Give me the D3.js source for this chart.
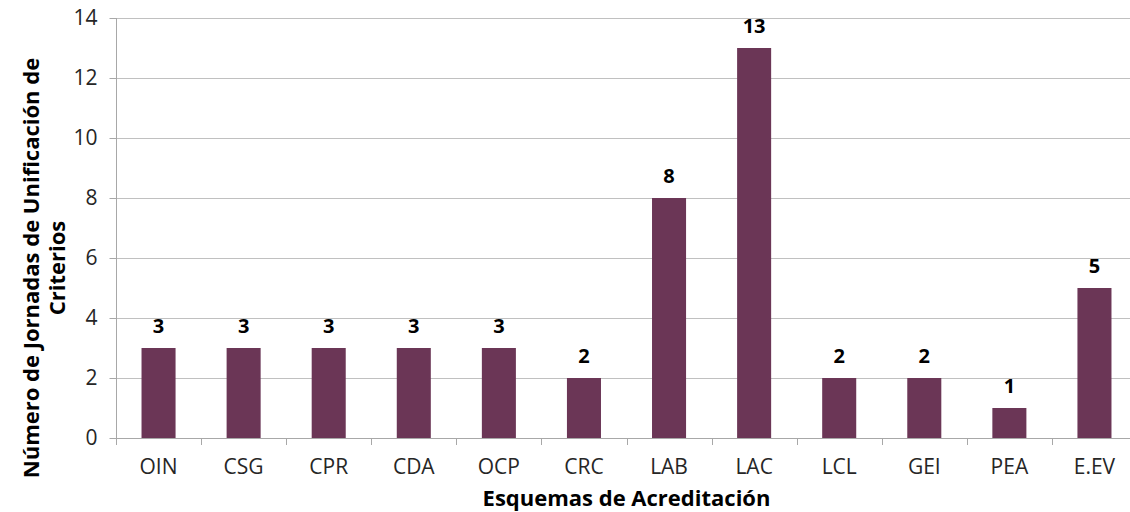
<!DOCTYPE html>
<html>
<head>
<meta charset="utf-8">
<script src="https://cdn.jsdelivr.net/npm/d3@7"></script>
<style>
  html, body { margin: 0; padding: 0; background: #ffffff; }
  svg { display: block; }
  text { font-family: "Open Sans", "Noto Sans", sans-serif; }
</style>
</head>
<body>
<svg id="chart" width="1130" height="512"></svg>
<script>
// Esquemas de acreditación y número de jornadas de unificación de criterios
const categories = ["OIN", "CSG", "CPR", "CDA", "OCP", "CRC", "LAB", "LAC", "LCL", "GEI", "PEA", "E.EV"];
const jornadas   = [3, 3, 3, 3, 3, 2, 8, 13, 2, 2, 1, 5];
const yTicks     = [0, 2, 4, 6, 8, 10, 12, 14];
const xTitle     = "Esquemas de Acreditación";
const yTitle     = ["Número de Jornadas de Unificación de", "Criterios"];

const svg = d3.select("#chart");
const plotLeft = 116, plotRight = 1137, plotTop = 18, plotBottom = 438;
const fontFamily = "'Open Sans', 'Noto Sans', sans-serif";

const x = d3.scaleBand()
  .domain(categories)
  .range([plotLeft, plotRight])
  .paddingInner(0.6)
  .paddingOuter(0.3);

const y = d3.scaleLinear()
  .domain([0, 14])
  .range([plotBottom, plotTop]);

const barColor = "#6b3656";
const gridColor = "#c0c0c0";
const axisColor = "#a8a8a8";

// horizontal gridlines
svg.append("g")
  .selectAll("line")
  .data(yTicks.filter(d => d > 0))
  .join("line")
  .attr("x1", plotLeft).attr("x2", 1130)
  .attr("y1", d => Math.round(y(d)) + 0.5)
  .attr("y2", d => Math.round(y(d)) + 0.5)
  .attr("stroke", gridColor)
  .attr("stroke-width", 1);

// y axis
const yAxis = svg.append("g")
  .attr("transform", `translate(${plotLeft + 0.5},0)`)
  .call(d3.axisLeft(y).tickValues(yTicks).tickSize(7).tickPadding(12).tickFormat(d3.format("d")));
yAxis.select(".domain").attr("stroke", axisColor).attr("d", `M0,${y(14)}V${y(0)}`);
yAxis.selectAll(".tick line").attr("stroke", axisColor);
yAxis.selectAll(".tick text")
  .attr("fill", "#262626")
  .style("font-size", "21px")
  .style("font-family", fontFamily);

// x axis baseline
svg.append("line")
  .attr("x1", plotLeft).attr("x2", 1130)
  .attr("y1", Math.round(y(0)) + 0.5).attr("y2", Math.round(y(0)) + 0.5)
  .attr("stroke", axisColor);

// category boundary ticks
const step = x.step();
const boundaries = categories.map(c => x(c) - (step - x.bandwidth()) / 2);
svg.append("g")
  .selectAll("line")
  .data(boundaries)
  .join("line")
  .attr("x1", d => Math.round(d) + 0.5)
  .attr("x2", d => Math.round(d) + 0.5)
  .attr("y1", y(0))
  .attr("y2", y(0) + 7)
  .attr("stroke", axisColor);

// category labels
svg.append("g")
  .selectAll("text")
  .data(categories)
  .join("text")
  .attr("x", d => x(d) + x.bandwidth() / 2)
  .attr("y", 474)
  .attr("text-anchor", "middle")
  .attr("fill", "#262626")
  .style("font-size", "21px")
  .text(d => d);

// bars
svg.append("g")
  .selectAll("rect")
  .data(categories.map((c, i) => ({ c, v: jornadas[i] })))
  .join("rect")
  .attr("x", d => x(d.c))
  .attr("y", d => y(d.v))
  .attr("width", x.bandwidth())
  .attr("height", d => y(0) - y(d.v))
  .attr("fill", barColor);

// value labels
svg.append("g")
  .selectAll("text")
  .data(categories.map((c, i) => ({ c, v: jornadas[i] })))
  .join("text")
  .attr("x", d => x(d.c) + x.bandwidth() / 2)
  .attr("y", d => y(d.v) - 15)
  .attr("text-anchor", "middle")
  .attr("fill", "#000000")
  .style("font-size", "20px")
  .style("font-weight", "bold")
  .text(d => d.v);

// x axis title
svg.append("text")
  .attr("x", (plotLeft + plotRight) / 2)
  .attr("y", 506)
  .attr("text-anchor", "middle")
  .attr("fill", "#000000")
  .style("font-size", "22px")
  .style("font-weight", "bold")
  .text(xTitle);

// y axis title (two lines)
const yt = svg.append("text")
  .attr("transform", "translate(39,268) rotate(-90)")
  .attr("text-anchor", "middle")
  .attr("fill", "#000000")
  .style("font-size", "22px")
  .style("font-weight", "bold");
yt.selectAll("tspan")
  .data(yTitle)
  .join("tspan")
  .attr("x", 0)
  .attr("dy", (d, i) => i === 0 ? 0 : 26)
  .text(d => d);
</script>
</body>
</html>
